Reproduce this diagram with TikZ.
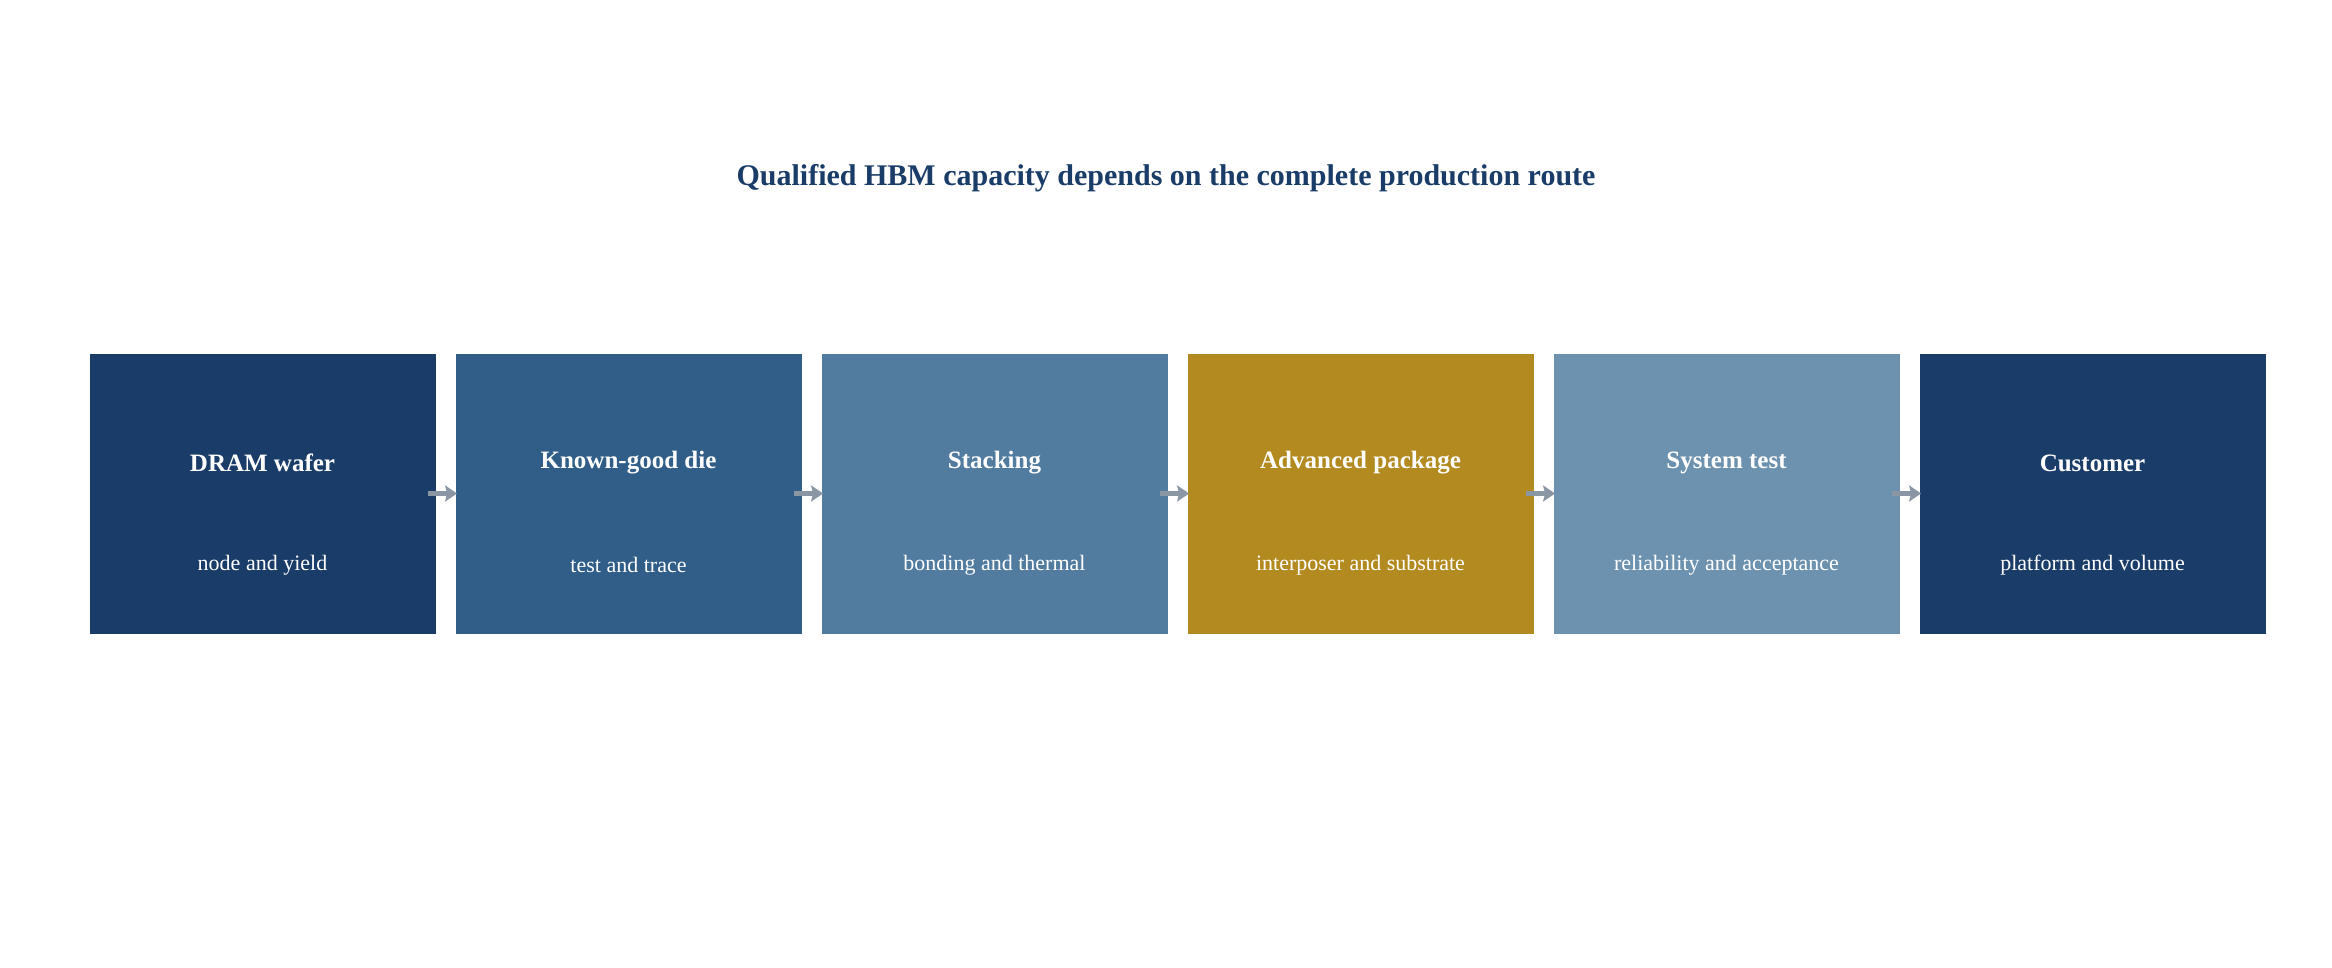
\documentclass[tikz,border=0pt]{standalone}
\usepackage{fontspec}
\setmainfont{Liberation Serif}
\usepackage{xcolor}
\usetikzlibrary{positioning, arrows.meta}
\definecolor{navy}{HTML}{1A3C68}
\definecolor{midblue}{HTML}{315E88}
\definecolor{steel}{HTML}{527BA0}
\definecolor{gold}{HTML}{B38A20}
\definecolor{slate}{HTML}{6D92AF}
\definecolor{arrowgray}{HTML}{8A96A3}
\tikzset{
  stage/.style={minimum width=173pt, minimum height=140pt, inner sep=0pt, fill=#1},
  head/.style={text=white, font=\fontsize{12.5}{14}\selectfont\bfseries},
  sub/.style={text=white, font=\fontsize{11}{13}\selectfont},
  flow/.style={arrowgray, line width=2.2pt, -{Stealth[length=6pt, width=8pt, inset=1pt]}, shorten <=-4pt, shorten >=-1pt}
}
\begin{document}
\begin{tikzpicture}[x=0.5pt, y=-0.5pt]
	\useasboundingbox (0,0) rectangle (2332,968);
	\node[text=navy, font=\fontsize{15}{18}\selectfont\bfseries] (title) at (1166,178) {Qualified HBM capacity depends on the complete production route};
	% stages
	\foreach \i/\col/\hd/\sb in {1/navy/DRAM wafer/node and yield,
	    2/midblue/Known-good die/test and trace,
	    3/steel/Stacking/bonding and thermal,
	    4/gold/Advanced package/interposer and substrate,
	    5/slate/System test/reliability and acceptance,
	    6/navy/Customer/platform and volume}{
		\node[stage=\col] (s\i) at ({262.5+366*(\i-1)},493.5) {};
		\node[head] (h\i) at ({262.5+366*(\i-1)},463) {\hd};
		\node[sub] (b\i) at ({262.5+366*(\i-1)},565) {\sb};
	}
	% arrows
	\foreach \i [evaluate=\i as \j using int(\i+1)] in {1,...,5}
		\draw[flow] (s\i.east) -- (s\j.west);
\end{tikzpicture}
\end{document}
